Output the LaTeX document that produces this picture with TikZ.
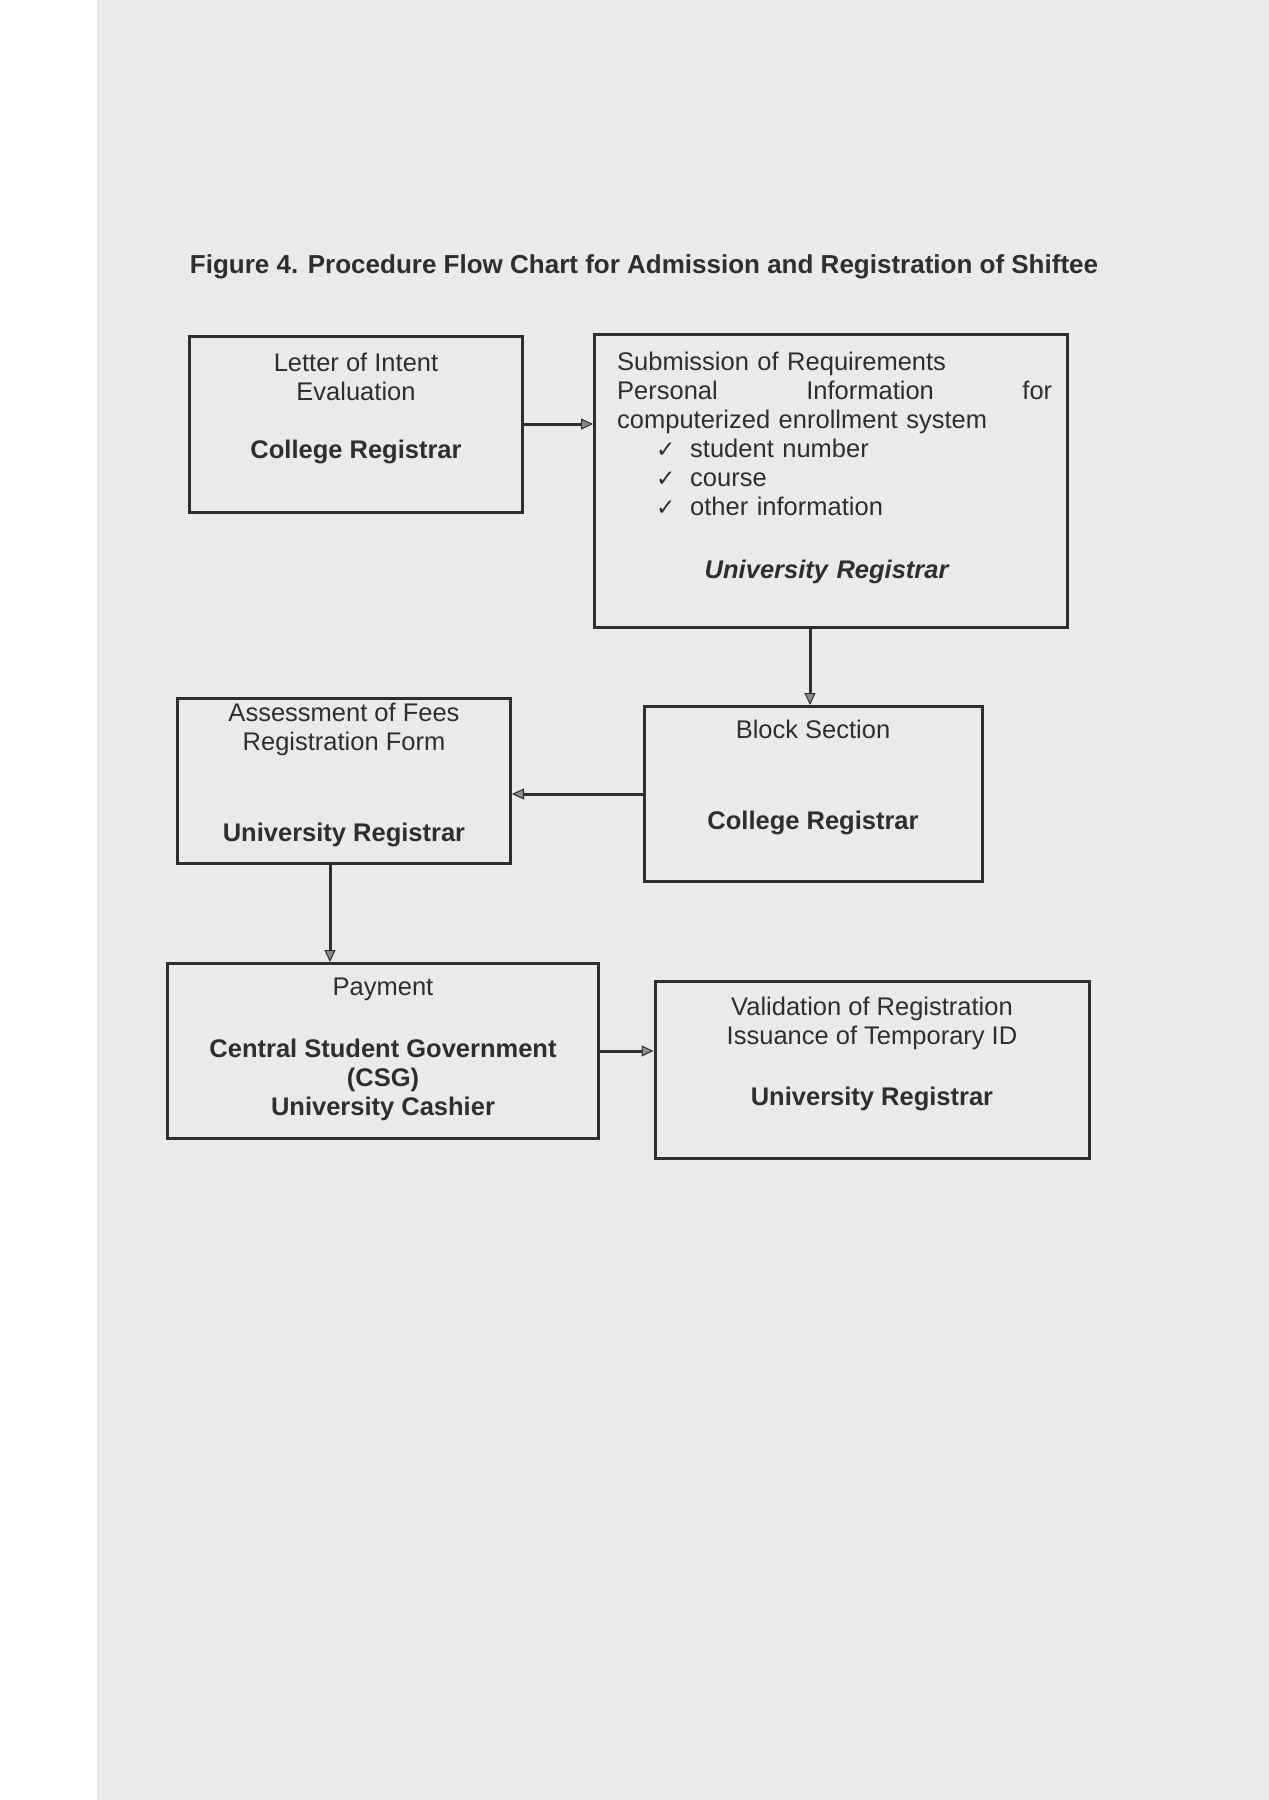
\documentclass[tikz,border=0pt]{standalone}
\usepackage{fontspec}
\setmainfont{Liberation Sans}
\newfontfamily\checkfont{DejaVu Sans}
\usetikzlibrary{arrows.meta, positioning, calc}
\definecolor{scanink}{HTML}{2E2E2E}
\definecolor{scanpage}{HTML}{EAEAEA}
\definecolor{scanhead}{HTML}{8C8C8C}

\newcommand{\tick}{\hspace*{39pt}\makebox[34pt][l]{\checkfont\fontsize{23}{29}\selectfont ✓}}

\begin{document}
\begin{tikzpicture}[
  x=1pt, y=-1pt,
  every node/.style={text=scanink, font=\fontsize{25.5}{29}\selectfont},
  box/.style={draw=scanink, line width=3pt, inner sep=0pt},
  boxtext/.style={align=center, inner sep=0pt, anchor=north},
  flow/.style={draw=scanink, line width=3pt,
    -{Triangle[length=12pt, width=11pt, line width=1pt, fill=scanhead]}}
]
\useasboundingbox (0,0) rectangle (1269,1800);
\fill[white] (0,0) rectangle (1269,1800);
\fill[scanpage] (97,0) rectangle (1269,1800);

\node[font=\fontsize{26}{30}\selectfont\bfseries] (title) at (644,267)
  {Figure 4. Procedure Flow Chart for Admission and Registration of Shiftee};

% boxes
\node[box, minimum width=333pt, minimum height=176pt] (intent) at (356,424) {};
\node[box, minimum width=473pt, minimum height=293pt] (submit) at (831,481) {};
\node[box, minimum width=333pt, minimum height=165pt] (assess) at (344,781) {};
\node[box, minimum width=338pt, minimum height=175pt] (block) at (813,794) {};
\node[box, minimum width=431pt, minimum height=175pt] (pay) at (383,1051) {};
\node[box, minimum width=434pt, minimum height=177pt] (valid) at (872,1070) {};

% box texts
\node[boxtext, below=18pt of intent.north] (intent-t)
  {Letter of Intent\\Evaluation\\[29pt]\textbf{College Registrar}};
\node[boxtext, align=left, text width=435pt, anchor=north west]
  (submit-t) at ($(submit.north west)+(24,19)$)
  {Submission of Requirements\\
   \makebox[435pt]{Personal\hfill Information\hfill for}\\
   computerized enrollment system\\
   \tick student number\\
   \tick course\\
   \tick other information\\[34pt]
   \makebox[420pt]{\textbf{\textit{University Registrar}}}};
\node[boxtext, below=6pt of assess.north] (assess-t)
  {Assessment of Fees\\Registration Form\\[62pt]\textbf{University Registrar}};
\node[boxtext, below=15pt of block.north] (block-t)
  {Block Section\\[62pt]\textbf{College Registrar}};
\node[boxtext, below=16pt of pay.north] (pay-t)
  {Payment\\[33pt]\textbf{Central Student Government}\\\textbf{(CSG)}\\\textbf{University Cashier}};
\node[boxtext, below=17pt of valid.north] (valid-t)
  {Validation of Registration\\Issuance of Temporary ID\\[32pt]\textbf{University Registrar}};

% connectors
\draw[flow] (intent.east) -- (intent.east -| submit.west);
\draw[flow] ($(block.north |- submit.south)+(-3,0)$) -- ($(block.north)+(-3,0)$);
\draw[flow] (block.west) -- (block.west -| assess.east);
\draw[flow] ($(assess.south)+(-14,0)$) -- ($(assess.south |- pay.north)+(-14,0)$);
\draw[flow] (pay.east) -- (pay.east -| valid.west);
\end{tikzpicture}
\end{document}
